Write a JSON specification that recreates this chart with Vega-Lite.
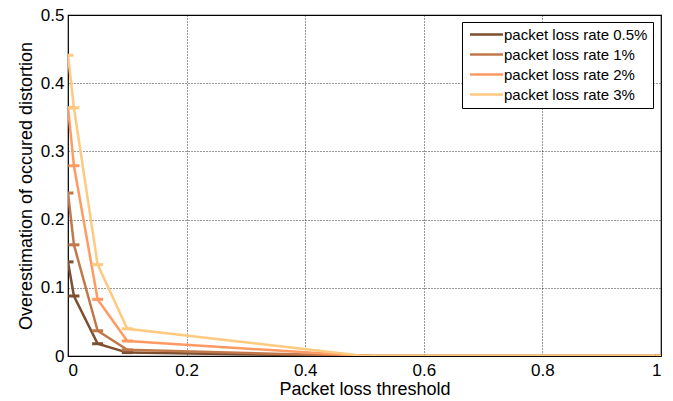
{
  "$schema": "https://vega.github.io/schema/vega-lite/v6.json",
  "width": 593,
  "height": 341,
  "autosize": {"type": "none"},
  "padding": {"left": 68, "top": 15, "right": 12, "bottom": 45},
  "background": "white",
  "config": {
    "font": "Liberation Sans",
    "view": {"stroke": "black", "strokeWidth": 1.2},
    "axis": {
      "grid": true,
      "gridColor": "black",
      "gridDash": [1, 2],
      "gridOpacity": 0.8,
      "domain": false,
      "ticks": false,
      "labelFont": "Liberation Sans",
      "labelFontSize": 17,
      "labelColor": "black",
      "titleFont": "Liberation Sans",
      "titleFontSize": 18,
      "titleFontWeight": "normal",
      "titleColor": "black"
    }
  },
  "data": {
    "values": [
      {"series": "packet loss rate 0.5%", "x": 0, "y": 0.138},
      {"series": "packet loss rate 0.5%", "x": 0.01, "y": 0.088},
      {"series": "packet loss rate 0.5%", "x": 0.05, "y": 0.018},
      {"series": "packet loss rate 0.5%", "x": 0.1, "y": 0.005},
      {"series": "packet loss rate 0.5%", "x": 0.5, "y": 0},
      {"series": "packet loss rate 0.5%", "x": 1, "y": 0},
      {"series": "packet loss rate 1%", "x": 0, "y": 0.239},
      {"series": "packet loss rate 1%", "x": 0.01, "y": 0.163},
      {"series": "packet loss rate 1%", "x": 0.05, "y": 0.037},
      {"series": "packet loss rate 1%", "x": 0.1, "y": 0.009},
      {"series": "packet loss rate 1%", "x": 0.5, "y": 0},
      {"series": "packet loss rate 1%", "x": 1, "y": 0},
      {"series": "packet loss rate 2%", "x": 0, "y": 0.364},
      {"series": "packet loss rate 2%", "x": 0.01, "y": 0.279},
      {"series": "packet loss rate 2%", "x": 0.05, "y": 0.083},
      {"series": "packet loss rate 2%", "x": 0.1, "y": 0.022},
      {"series": "packet loss rate 2%", "x": 0.5, "y": 0},
      {"series": "packet loss rate 2%", "x": 1, "y": 0},
      {"series": "packet loss rate 3%", "x": 0, "y": 0.441},
      {"series": "packet loss rate 3%", "x": 0.01, "y": 0.364},
      {"series": "packet loss rate 3%", "x": 0.05, "y": 0.134},
      {"series": "packet loss rate 3%", "x": 0.1, "y": 0.04},
      {"series": "packet loss rate 3%", "x": 0.5, "y": 0},
      {"series": "packet loss rate 3%", "x": 1, "y": 0}
    ]
  },
  "encoding": {
    "x": {
      "field": "x", "type": "quantitative",
      "scale": {"domain": [0, 1], "nice": false, "zero": false},
      "axis": {"title": "Packet loss threshold", "values": [0, 0.2, 0.4, 0.6, 0.8, 1], "format": "~g", "labelPadding": 6, "titlePadding": 2}
    },
    "y": {
      "field": "y", "type": "quantitative",
      "scale": {"domain": [0, 0.5], "nice": false},
      "axis": {"title": "Overestimation of occured distortion", "values": [0, 0.1, 0.2, 0.3, 0.4, 0.5], "format": "~g", "labelPadding": 4, "titlePadding": 5}
    },
    "color": {
      "field": "series", "type": "nominal",
      "scale": {
        "domain": ["packet loss rate 0.5%", "packet loss rate 1%", "packet loss rate 2%", "packet loss rate 3%"],
        "range": ["#7d4e2f", "#c0784a", "#ff9a62", "#ffc97f"]
      },
      "legend": {
        "title": null,
        "orient": "none",
        "legendX": 394,
        "legendY": 7,
        "symbolType": "M-3,0H3",
        "symbolSize": 121,
        "symbolStrokeWidth": 2.5,
        "symbolOffset": 12,
        "symbolOpacity": 1,
        "labelFontSize": 15,
        "labelFont": "Liberation Sans",
        "labelColor": "black",
        "rowPadding": 4,
        "padding": 5,
        "strokeColor": "black",
        "fillColor": "white",
        "labelOffset": 10
      }
    }
  },
  "layer": [
    {"mark": {"type": "line", "strokeWidth": 2.5, "clip": true}},
    {"mark": {"type": "tick", "orient": "horizontal", "size": 11, "thickness": 3, "opacity": 1, "clip": true}}
  ]
}
